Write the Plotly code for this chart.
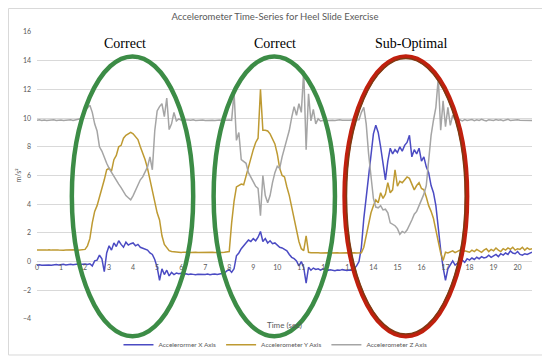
import numpy as np
import plotly.graph_objects as go

# time axis, seconds (one reading every 0.1 s)
time = np.round(np.arange(0, 20.65, 0.1), 1)

# accelerometer X axis (m/s^2), one row per second
acc_x = [
    -0.25, -0.22, -0.26, -0.24, -0.20, -0.23, -0.25, -0.22, -0.20, -0.24,
    -0.21, -0.19, -0.23, -0.20, -0.18, -0.22, -0.20, -0.17, -0.21, -0.19,
    -0.16, -0.20, -0.15, -0.30, 0.05, 0.10, 0.45, 0.20, -0.70, 0.60,
    1.10, 0.80, 1.30, 1.05, 1.45, 1.20, 1.00, 1.35, 1.15, 1.25,
    1.30, 1.10, 1.20, 1.00, 0.95, 0.85, 0.80, 0.60, 0.50, 0.15,
    -0.40, -1.30, -0.50, -0.90, -0.60, -1.00, -0.75, -0.90, -0.80, -0.85,
    -0.82, -0.88, -0.85, -0.90, -0.86, -0.89, -0.92, -0.88, -0.90, -0.93,
    -0.90, -0.87, -0.91, -0.88, -0.86, -0.90, -0.85, -0.83, -0.80, -0.65,
    -0.55, -0.75, -0.50, 0.40, 0.60, 0.90, 1.10, 1.30, 1.50, 1.40,
    1.60, 1.45, 1.70, 2.10, 1.40, 1.60, 1.30, 1.45, 1.25, 1.30,
    1.15, 1.00, 0.95, 0.85, 0.75, 0.50, 0.30, 0.20, 0.05, -0.30,
    0.00, -0.40, -1.50, -0.40, -0.60, -0.45, -0.55, -0.50, -0.60, -0.50,
    -0.58, -0.62, -0.57, -0.60, -0.63, -0.58, -0.61, -0.56, -0.60, -0.62,
    -0.58, -0.60, -0.50, -0.30, 0.00, 1.00, 3.00, 4.50, 5.80, 7.60,
    8.90, 9.50, 9.00, 8.00, 6.80, 5.70, 7.00, 7.90, 7.50, 7.80,
    7.60, 8.00, 7.70, 8.10, 8.30, 8.80, 7.30, 7.80, 7.50, 7.90,
    7.00, 7.30, 6.60, 6.20, 5.30, 4.80, 3.90, 2.20, 0.80, -0.40,
    -1.30, -0.50, -0.20, 0.05, -0.25, -0.10, -0.15, 0.10, -0.05, 0.20,
    0.10, 0.25, 0.15, 0.30, 0.20, 0.35, 0.25, 0.30, 0.45, 0.30,
    0.40, 0.50, 0.35, 0.55, 0.45, 0.60, 0.50, 0.75, 0.60, 0.55,
    0.70, 0.50, 0.45, 0.55, 0.50, 0.60, 0.65,
]

# accelerometer Y axis
acc_y = [
    0.80, 0.82, 0.79, 0.81, 0.80, 0.83, 0.80, 0.78, 0.81, 0.80,
    0.82, 0.79, 0.80, 0.81, 0.78, 0.80, 0.82, 0.79, 0.81, 0.80,
    0.85, 1.10, 1.60, 2.70, 3.50, 3.90, 4.50, 5.00, 5.70, 6.40,
    6.50, 6.30, 7.10, 7.40, 8.00, 8.10, 8.60, 8.80, 8.90, 9.00,
    8.90, 8.70, 8.50, 8.00, 7.60, 7.10, 6.50, 5.70, 4.90, 4.10,
    3.40, 2.90, 1.80, 1.20, 0.95, 0.76, 0.70, 0.68, 0.65, 0.64,
    0.64, 0.66, 0.63, 0.65, 0.64, 0.66, 0.65, 0.63, 0.64, 0.66,
    0.65, 0.64, 0.66, 0.65, 0.63, 0.65, 0.66, 0.64, 0.65, 0.66,
    0.70, 2.70, 4.20, 5.20, 5.30, 5.40, 5.35, 6.00, 6.60, 7.30,
    7.80, 8.30, 8.60, 12.00, 9.15, 9.15, 9.10, 8.90, 8.60, 8.20,
    7.50, 6.50, 6.00, 5.90, 5.20, 4.60, 3.80, 2.95, 2.20, 1.40,
    0.90, 0.76, 1.80, 0.65, 0.62, 0.60, 0.62, 0.61, 0.60, 0.62,
    0.60, 0.61, 0.60, 0.62, 0.59, 0.61, 0.60, 0.62, 0.60, 0.61,
    0.60, 0.62, 0.61, 0.60, 0.62, 0.62, 1.00, 1.80, 2.80, 3.40,
    3.90, 4.30, 4.10, 4.80, 4.40, 4.70, 5.50, 4.80, 5.00, 6.40,
    5.25, 5.60, 5.50, 5.70, 5.90, 5.80, 5.40, 5.00, 5.30, 5.50,
    5.10, 5.00, 4.50, 3.90, 3.50, 3.00, 2.20, 1.40, 0.60, 0.07,
    0.65, 0.60, 0.65, 0.75, 0.62, 0.70, 0.80, 0.65, 0.75, 0.70,
    0.65, 0.80, 0.70, 0.85, 0.75, 0.65, 0.80, 0.90, 0.70, 0.85,
    0.75, 0.95, 0.80, 0.70, 0.90, 0.80, 0.95, 0.85, 1.00, 0.80,
    0.90, 0.85, 1.00, 0.80, 0.95, 0.85, 0.90,
]

# accelerometer Z axis
acc_z = [
    9.85, 9.88, 9.84, 9.87, 9.83, 9.86, 9.85, 9.88, 9.84, 9.86,
    9.87, 9.84, 9.86, 9.85, 9.88, 9.84, 9.86, 9.90, 9.95, 10.10,
    10.50, 10.70, 10.90, 10.40, 9.60, 9.10, 8.00, 7.70, 7.20, 6.85,
    6.50, 6.20, 5.90, 5.60, 5.40, 5.15, 4.90, 4.60, 4.45, 4.30,
    4.60, 5.00, 5.40, 5.70, 5.90, 6.30, 6.60, 7.30, 6.40, 9.10,
    10.50, 10.80, 11.00, 10.10, 11.40, 9.20, 9.60, 10.40, 9.80, 9.95,
    9.85, 9.87, 9.84, 9.86, 9.85, 9.88, 9.83, 9.86, 9.85, 9.87,
    9.84, 9.86, 9.88, 9.85, 9.83, 9.86, 9.87, 9.84, 9.86, 9.85,
    9.87, 9.84, 11.80, 8.45, 9.00, 7.10, 7.00, 6.85, 6.20, 5.90,
    5.60, 5.25, 5.10, 3.20, 6.00, 4.60, 4.10, 4.60, 5.50, 6.20,
    6.65, 6.50, 7.30, 7.90, 8.50, 9.15, 10.05, 10.80, 10.20, 11.00,
    10.40, 13.30, 7.80, 11.70, 9.80, 10.60, 9.60, 9.95, 9.80, 9.85,
    9.86, 9.84, 9.87, 9.85, 9.83, 9.86, 9.88, 9.85, 9.84, 9.86,
    9.85, 9.87, 9.84, 9.86, 9.88, 10.40, 10.75, 9.60, 7.50, 5.80,
    4.40, 3.80, 3.75, 3.90, 3.60, 3.65, 3.40, 2.70, 2.60, 2.50,
    2.30, 1.90, 2.10, 2.00, 2.20, 2.50, 2.90, 3.30, 3.50, 3.90,
    4.30, 4.70, 5.30, 7.00, 8.80, 9.85, 10.75, 12.80, 9.15, 11.20,
    9.40, 10.75, 9.50, 10.20, 9.90, 9.85, 9.88, 9.80, 9.90, 9.84,
    9.86, 9.90, 9.82, 9.88, 9.84, 9.91, 9.85, 9.80, 9.89, 9.86,
    9.83, 9.90, 9.85, 9.88, 9.82, 9.87, 9.91, 9.84, 9.86, 9.83,
    9.88, 9.85, 9.84, 9.87, 9.85, 9.86, 9.84,
]

series_names = ["Accelerormer X Axis", "Accelerometer Y Axis", "Accelerometer Z Axis"]
series_colors = ["#4B4BC3", "#BE9A32", "#A5A5A5"]

# exercise repetitions: (label, start s, end s, label centre s)
reps = [("Correct", 1.45, 6.5, 3.68),
        ("Correct", 7.35, 12.4, 9.9),
        ("Sub-Optimal", 12.8, 17.9, 15.56)]

x_range = [0, 20.6]
y_range = [-4, 16]

fig = go.Figure()
for vals, name, col in zip([acc_x, acc_y, acc_z], series_names, series_colors):
    fig.add_trace(go.Scatter(x=time, y=vals, mode="lines", name=name,
                             line=dict(color=col, width=1.5)))


def px(t):
    return (t - x_range[0]) / (x_range[1] - x_range[0])


def py(v):
    return (v - y_range[0]) / (y_range[1] - y_range[0])


shapes = []
annotations = []
for label, t0, t1, tc in reps:
    good = label == "Correct"
    top = 14.3
    shapes.append(dict(type="circle", xref="paper", yref="paper", layer="above",
                       x0=px(t0), x1=px(t1), y0=py(-5.2), y1=py(top),
                       line=dict(color="#3C8C46" if good else "#C0200E", width=4.5)))
    if not good:
        shapes.append(dict(type="circle", xref="paper", yref="paper", layer="above",
                           x0=px(t0 + 0.08), x1=px(t1 - 0.08), y0=py(-5.05), y1=py(top - 0.15),
                           line=dict(color="#7E3A12", width=1.5)))
    annotations.append(dict(text=label, x=px(tc), y=py(15.2), xanchor="center", yanchor="middle",
                            xref="paper", yref="paper", showarrow=False,
                            font=dict(family="Liberation Serif", size=14, color="black")))

annotations.append(dict(text="Time (sec)", x=0.5, y=py(-4.4), xref="paper", yref="paper",
                        yanchor="middle", showarrow=False,
                        font=dict(family="Lato", size=8, color="#595959")))

# outer chart border
shapes.append(dict(type="rect", xref="paper", yref="paper", layer="below",
                   x0=-0.0576, x1=1.0233, y0=-0.1254, y1=1.0819,
                   line=dict(color="#D9D9D9", width=1)))

# page adds an 8px body margin, so the figure is drawn 8px smaller
fig.update_layout(
    width=542, height=353,
    margin=dict(l=29, r=18, t=24, b=42),
    paper_bgcolor="white", plot_bgcolor="white",
    font=dict(family="Lato", size=7, color="#595959"),
    title=dict(text="Accelerometer Time-Series for Heel Slide Exercise",
               x=0.4926, xanchor="center", y=0.9745, yanchor="middle",
               font=dict(family="Lato", size=9.5, color="#595959")),
    xaxis=dict(range=x_range, dtick=1, tick0=0, showgrid=False, zeroline=False,
               anchor="free", position=py(0), ticks="", showline=False,
               automargin=False, tickfont=dict(size=7, color="#595959")),
    yaxis=dict(range=y_range, dtick=2, gridcolor="#D9D9D9", gridwidth=1,
               zeroline=False, showline=False, ticks="", automargin=False,
               ticklabelstandoff=5,
               title=dict(text="m/s²", font=dict(size=7, color="#595959"), standoff=0),
               tickfont=dict(size=7, color="#595959")),
    legend=dict(orientation="h", xref="container", x=0.4935, xanchor="center",
                yref="container", y=0.046, yanchor="middle",
                bgcolor="rgba(0,0,0,0)",
                font=dict(size=6.5, color="#595959"), itemwidth=30),
    shapes=shapes,
    annotations=annotations,
)

fig.write_html("out.html")
